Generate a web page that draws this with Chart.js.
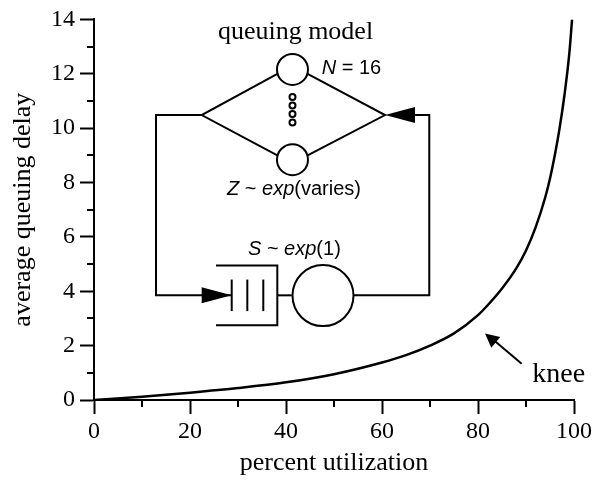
<!DOCTYPE html>
<html>
<head>
<meta charset="utf-8">
<script src="https://cdn.jsdelivr.net/npm/chart.js@4/dist/chart.umd.min.js"></script>
<style>
  html, body { margin: 0; padding: 0; background: #fff; }
  #wrap { width: 603px; height: 480px; }
</style>
</head>
<body>
<div id="wrap"><canvas id="myChart"></canvas></div>
<script>
// utilization (%) and average queuing delay
const utilization = [0, 10, 20, 30, 40, 50, 60, 65, 70, 75, 80, 82.5, 85, 88, 90, 92, 94, 95, 96, 97, 98, 99, 99.6];
const queuingDelay = [0, 0.12, 0.27, 0.44, 0.65, 0.95, 1.38, 1.65, 2.0, 2.45, 3.12, 3.58, 4.1, 4.85, 5.5, 6.35, 7.45, 8.15, 9.0, 10.0, 11.2, 12.7, 14.0];
const xTicks = [0, 20, 40, 60, 80, 100];
const yTicks = [0, 2, 4, 6, 8, 10, 12, 14];
const xMinorTicks = [10, 30, 50, 70, 90];
const yMinorTicks = [1, 3, 5, 7, 9, 11, 13];

const serif = '"Liberation Serif", "Times New Roman", serif';
const sans = '"Liberation Sans", Arial, sans-serif';

// minor tick marks on both axes
const minorTicks = {
  id: 'minorTicks',
  afterDraw(chart) {
    const ctx = chart.ctx;
    const xs = chart.scales.x, ys = chart.scales.y;
    ctx.save();
    ctx.strokeStyle = '#000';
    ctx.lineWidth = 2;
    ctx.beginPath();
    xMinorTicks.forEach(v => {
      const px = Math.round(xs.getPixelForValue(v));
      ctx.moveTo(px, ys.bottom);
      ctx.lineTo(px, ys.bottom + 7);
    });
    yMinorTicks.forEach(v => {
      const py = Math.round(ys.getPixelForValue(v));
      ctx.moveTo(xs.left, py);
      ctx.lineTo(xs.left - 7, py);
    });
    ctx.stroke();
    ctx.restore();
  }
};

// the queuing model sketch and the knee label, placed in data units
const diagram = {
  id: 'diagram',
  afterDraw(chart) {
    const ctx = chart.ctx;
    const xs = chart.scales.x, ys = chart.scales.y;
    const X = v => xs.getPixelForValue(v);
    const Y = v => ys.getPixelForValue(v);

    const line = pts => {
      ctx.beginPath();
      ctx.moveTo(X(pts[0][0]), Y(pts[0][1]));
      for (let i = 1; i < pts.length; i++) ctx.lineTo(X(pts[i][0]), Y(pts[i][1]));
      ctx.stroke();
    };
    const circle = (cx, cy, r) => {
      ctx.beginPath();
      ctx.arc(X(cx), Y(cy), r, 0, Math.PI * 2);
      ctx.stroke();
    };
    const arrowHead = (tx, ty, angle, len, half) => {
      const px = X(tx), py = Y(ty);
      ctx.beginPath();
      ctx.moveTo(px, py);
      ctx.lineTo(px - len * Math.cos(angle) - half * Math.sin(angle), py - len * Math.sin(angle) + half * Math.cos(angle));
      ctx.lineTo(px - len * Math.cos(angle) + half * Math.sin(angle), py - len * Math.sin(angle) - half * Math.cos(angle));
      ctx.closePath();
      ctx.fill();
    };
    const runs = (parts, x, y) => {
      let px = X(x);
      parts.forEach(([txt, italic]) => {
        ctx.font = (italic ? 'italic ' : '') + '20px ' + sans;
        ctx.fillText(txt, px, Y(y));
        px += ctx.measureText(txt).width;
      });
    };

    ctx.save();
    ctx.strokeStyle = '#000';
    ctx.fillStyle = '#000';
    ctx.lineWidth = 2;

    // delay stations
    circle(41.35, 12.16, 15.5);
    circle(41.35, 8.84, 15.5);
    [11.15, 10.83, 10.52, 10.21].forEach(v => circle(41.35, v, 3));
    line([[38.2, 12.0], [22.44, 10.48], [38.2, 9.0]]);
    line([[44.5, 12.0], [60.63, 10.48], [44.5, 9.0]]);

    // loop from the fork down into the queue
    line([[22.44, 10.48], [12.92, 10.48], [12.92, 3.85], [28.69, 3.85]]);
    arrowHead(28.69, 3.85, 0, 30, 8);

    // queue buffer
    line([[25.42, 4.95], [38.19, 4.95], [38.19, 2.75], [25.42, 2.75]]);
    [28.69, 31.94, 35.27].forEach(v => line([[v, 4.43], [v, 3.27]]));

    // server
    line([[38.19, 3.85], [41.2, 3.85]]);
    circle(47.71, 3.84, 30.5);
    line([[54.0, 3.85], [69.85, 3.85], [69.85, 10.48], [66.9, 10.48]]);
    arrowHead(60.63, 10.48, Math.PI, 30, 8);

    // knee arrow
    line([[89.1, 1.33], [83.0, 2.24]]);
    const ang = Math.atan2(Y(2.45) - Y(1.33), X(81.46) - X(89.1));
    arrowHead(81.46, 2.45, ang, 14, 7);

    // labels
    ctx.textBaseline = 'alphabetic';
    ctx.textAlign = 'center';
    ctx.font = '26px ' + serif;
    ctx.fillText('queuing model', X(41.98), Y(13.27));
    ctx.textAlign = 'left';
    ctx.font = '28px ' + serif;
    ctx.fillText('knee', X(91.3), Y(0.67));

    ctx.textBaseline = 'middle';
    runs([['N', true], [' = 16', false]], 47.44, 12.18);
    runs([['Z', true], [' ~ ', false], ['exp', true], ['(varies)', false]], 27.71, 7.75);
    runs([['S', true], [' ~ ', false], ['exp', true], ['(1)', false]], 32.08, 5.53);
    ctx.restore();
  }
};

const ctx = document.getElementById('myChart');
new Chart(ctx, {
  type: 'line',
  data: {
    datasets: [{
      data: utilization.map((u, i) => ({ x: u, y: queuingDelay[i] })),
      borderColor: '#000',
      borderWidth: 2.5,
      pointRadius: 0,
      cubicInterpolationMode: 'monotone',
      fill: false
    }]
  },
  options: {
    responsive: true,
    maintainAspectRatio: false,
    animation: false,
    devicePixelRatio: 1,
    layout: { padding: { top: 15, right: 29, left: 0, bottom: 0 } },
    plugins: { legend: { display: false }, tooltip: { enabled: false } },
    scales: {
      x: {
        type: 'linear',
        min: 0,
        max: 100,
        afterFit: s => { s.height = 80; },
        afterBuildTicks: s => { s.ticks = xTicks.map(v => ({ value: v })); },
        ticks: { color: '#000', padding: 3, font: { family: serif, size: 24 } },
        grid: { drawOnChartArea: false, drawTicks: true, tickLength: 14, tickWidth: 2, tickColor: '#000' },
        border: { display: true, color: '#000', width: 2 },
        title: {
          display: true,
          text: 'percent utilization',
          color: '#000',
          font: { family: serif, size: 26, lineHeight: 1.2 },
          padding: { top: 0, bottom: 1 }
        }
      },
      y: {
        min: 0,
        max: 14,
        afterFit: s => { s.width = 94; },
        afterBuildTicks: s => { s.ticks = yTicks.map(v => ({ value: v })); },
        ticks: { color: '#000', padding: 5, font: { family: serif, size: 24 } },
        grid: { drawOnChartArea: false, drawTicks: true, tickLength: 14, tickWidth: 2, tickColor: '#000' },
        border: { display: true, color: '#000', width: 2 },
        title: {
          display: true,
          text: 'average queuing delay',
          color: '#000',
          font: { family: serif, size: 26, lineHeight: 1.2 },
          padding: { top: 8, bottom: 0 }
        }
      }
    }
  },
  plugins: [minorTicks, diagram]
});
</script>
</body>
</html>
